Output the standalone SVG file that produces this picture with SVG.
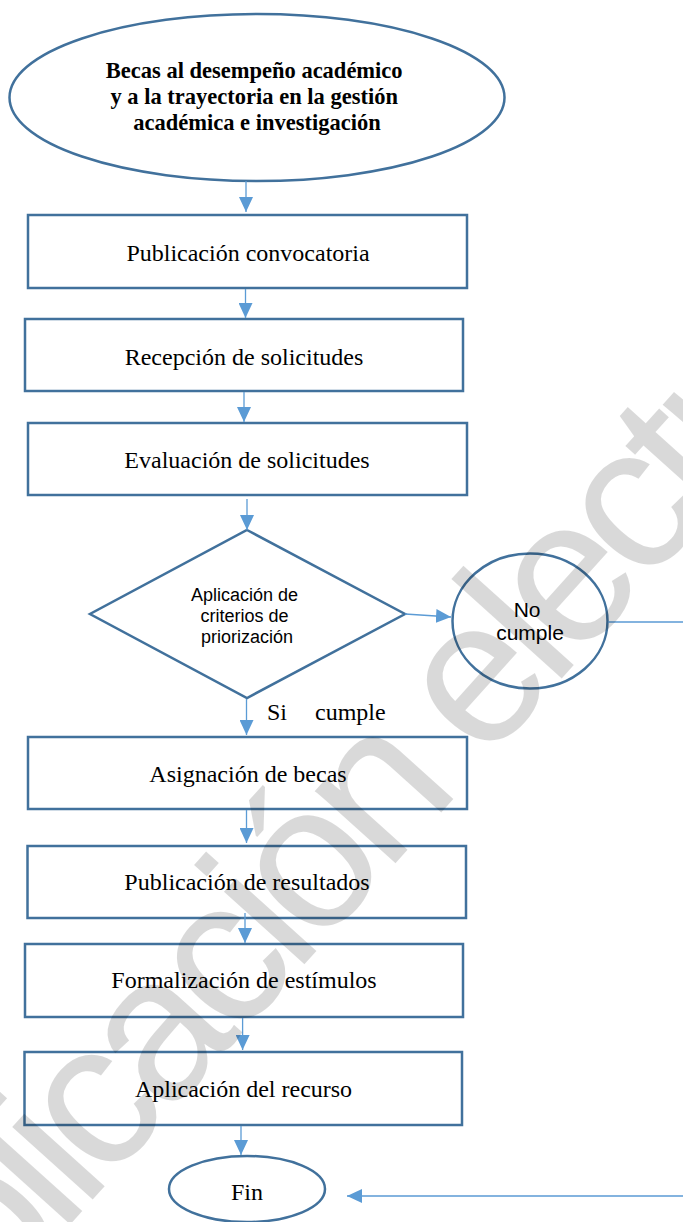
<svg xmlns="http://www.w3.org/2000/svg" width="683" height="1222" viewBox="0 0 683 1222">
<style>
.shape{fill:#fff;stroke:#41719c;stroke-width:2.5}
.serif{font-family:"Liberation Serif","Times New Roman",serif;fill:#000}
.sans{font-family:"Liberation Sans",Arial,sans-serif;fill:#000}
.box{font-size:24px;text-anchor:middle}
.conn{fill:none;stroke:#5b9bd5;stroke-width:1.3}
.wm{font-family:"Liberation Sans",Arial,sans-serif;font-size:205px;letter-spacing:-12px;fill:#000;fill-opacity:0.15}
</style>
<defs>
<marker id="ah" markerUnits="userSpaceOnUse" markerWidth="15" markerHeight="14" refX="15" refY="7" orient="auto">
<path d="M0,0 L15,7 L0,14 z" fill="#5b9bd5"/>
</marker>
</defs>
<rect width="683" height="1222" fill="#fff"/>
<g id="inicio">
<ellipse class="shape" cx="257" cy="97.5" rx="247.5" ry="83.5"/>
<text class="serif" font-weight="bold" font-size="22.5" text-anchor="middle">
<tspan x="257" y="78">Becas al desempeño académico</tspan>
<tspan x="257" y="104">y a la trayectoria en la gestión</tspan>
<tspan x="257" y="130">académica e investigación</tspan>
</text>
</g>
<g id="publicacion-convocatoria">
<rect class="shape" x="28" y="215" width="439" height="73"/>
<text class="serif box" x="248" y="261">Publicación convocatoria</text>
</g>
<g id="recepcion">
<rect class="shape" x="25" y="319" width="438" height="72"/>
<text class="serif box" x="244" y="365">Recepción de solicitudes</text>
</g>
<g id="evaluacion">
<rect class="shape" x="28" y="423" width="439" height="72"/>
<text class="serif box" x="247" y="468">Evaluación de solicitudes</text>
</g>
<g id="criterios">
<polygon class="shape" points="247,530 405,614 247,698 90,614"/>
<text class="sans" font-size="18" text-anchor="middle">
<tspan x="247" y="601">Aplicación de</tspan>
<tspan x="247" y="622">criterios de</tspan>
<tspan x="247" y="643">priorización</tspan>
</text>
</g>
<g id="no-cumple">
<ellipse class="shape" cx="530" cy="621" rx="77.5" ry="67.5" stroke-width="2.2"/>
<text class="sans" font-size="21" text-anchor="middle">
<tspan x="530" y="617">No</tspan>
<tspan x="530" y="640">cumple</tspan>
</text>
</g>
<g id="si-cumple">
<text class="serif" font-size="24" x="267" y="720">Si<tspan dx="22"> cumple</tspan></text>
</g>
<g id="asignacion">
<rect class="shape" x="28" y="737" width="439" height="72"/>
<text class="serif box" x="248" y="782">Asignación de becas</text>
</g>
<g id="publicacion-resultados">
<rect class="shape" x="27.5" y="846" width="438.5" height="72"/>
<text class="serif box" x="247" y="890">Publicación de resultados</text>
</g>
<g id="formalizacion">
<rect class="shape" x="25" y="944" width="438" height="73"/>
<text class="serif box" x="244" y="988">Formalización de estímulos</text>
</g>
<g id="aplicacion-recurso">
<rect class="shape" x="24.5" y="1052" width="437.5" height="73"/>
<text class="serif box" x="243.5" y="1097">Aplicación del recurso</text>
</g>
<g id="fin">
<ellipse class="shape" cx="247" cy="1189" rx="78" ry="33"/>
<text class="serif box" x="247" y="1200">Fin</text>
</g>
<g id="connectors">
<path class="conn" marker-end="url(#ah)" d="M246,181 V212"/>
<path class="conn" marker-end="url(#ah)" d="M245.5,289 V318"/>
<path class="conn" marker-end="url(#ah)" d="M244,392 V422"/>
<path class="conn" marker-end="url(#ah)" d="M247,499 V530"/>
<path class="conn" marker-end="url(#ah)" d="M246.5,699 V735"/>
<path class="conn" marker-end="url(#ah)" d="M246.5,810 V843"/>
<path class="conn" marker-end="url(#ah)" d="M245,913 V943"/>
<path class="conn" marker-end="url(#ah)" d="M242.6,1018 V1050"/>
<path class="conn" marker-end="url(#ah)" d="M241,1126 V1155"/>
<path class="conn" marker-end="url(#ah)" d="M405,614 L451,617"/>
<path class="conn" marker-end="url(#ah)" d="M608,622 H700 V1196 H347"/>
</g>
<text class="wm" transform="translate(-159,1479) rotate(-48)">Publicación electrónica</text>
</svg>
